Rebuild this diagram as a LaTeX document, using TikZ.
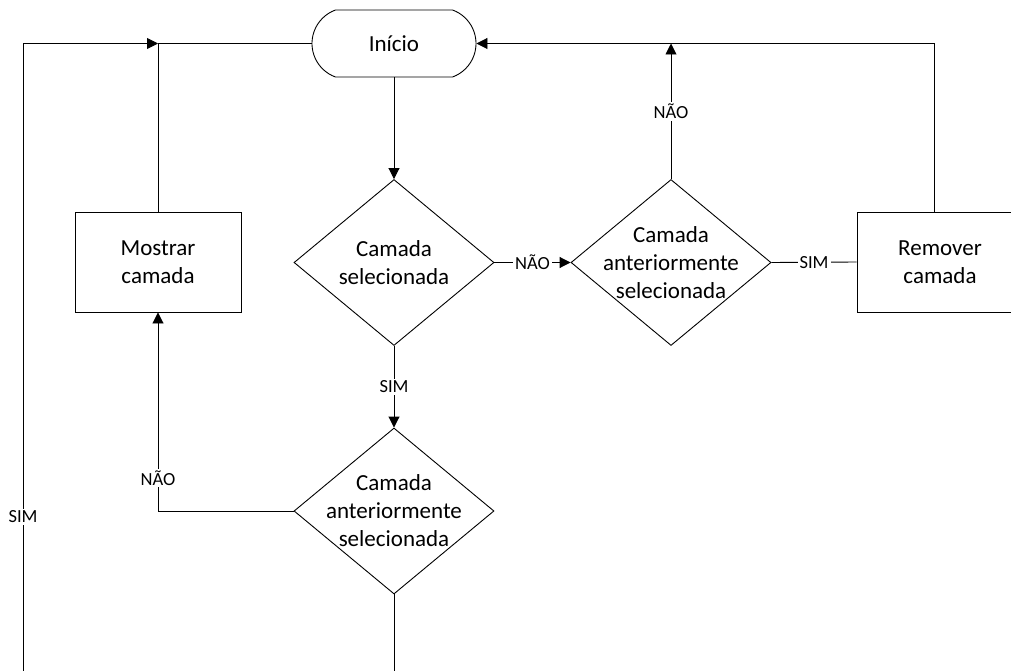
\documentclass[tikz,border=0pt]{standalone}
\usepackage{fontspec}
\setmainfont{Carlito}
\usetikzlibrary{shapes.geometric,shapes.misc,arrows.meta}
\begin{document}
\begin{tikzpicture}[x=1pt,y=-1pt,
  line width=0.9pt,
  every node/.style={font=\fontsize{23}{28}\selectfont},
  term/.style={draw, rounded rectangle, rounded rectangle arc length=140,
    minimum width=164pt, minimum height=67pt, inner sep=0pt},
  proc/.style={draw, rectangle, minimum width=166pt, minimum height=100pt,
    align=center, inner sep=0pt},
  decision/.style={draw, diamond, minimum width=200pt, minimum height=166pt,
    inner sep=0pt},
  dtext/.style={align=center, inner sep=0pt},
  lbl/.style={fill=white, inner sep=2pt, font=\fontsize{18.5}{21}\selectfont},
  flow/.style={-{Triangle[length=11pt,width=11pt]}}
]
\useasboundingbox (0,0) rectangle (1011,671);
\clip (0,0) rectangle (1011,671);

% steps and decisions
\node[term] (start) at (394,43.5) {Início};
\node[proc] (show) at (158,262) {Mostrar\\camada};
\node[decision] (sel) at (394,262.5) {};
\node[dtext] (selt) at (sel) {Camada\\selecionada};
\node[decision] (prev) at (671,262.5) {};
\node[dtext] (prevt) at (prev) {Camada\\anteriormente\\selecionada};
\node[proc] (rem) at (940,262) {Remover\\camada};
\node[decision] (prev2) at (394,511) {};
\node[dtext] (prev2t) at (prev2) {Camada\\anteriormente\\selecionada};

% junctions
\coordinate (remTop) at ([xshift=-6pt]rem.north);
\coordinate (topR) at (remTop |- start.east);
\coordinate (join) at (show.north |- start.west);
\coordinate (low) at (23,690);

% connectors
\draw[flow] (start.south) -- (sel.north);
\draw[flow] (sel.east) -- node[lbl]{NÃO} (prev.west);
\draw (prev.east) -- node[lbl]{SIM} (rem.west);
\draw[flow] (remTop) -- (topR) -- (start.east);
\draw[flow] (prev.north) -- node[lbl]{NÃO} (prev.north |- start.east);
\draw[flow] (sel.south) -- node[lbl]{SIM} (prev2.north);
\draw[flow] (prev2.west) -| node[lbl,pos=0.583]{NÃO} (show.south);
\draw (show.north) -- (join) -- (start.west);
\draw[flow] (prev2.south) |- (low) -- node[lbl,pos=0.268]{SIM} (low |- start.west) -- (join);
\end{tikzpicture}
\end{document}
